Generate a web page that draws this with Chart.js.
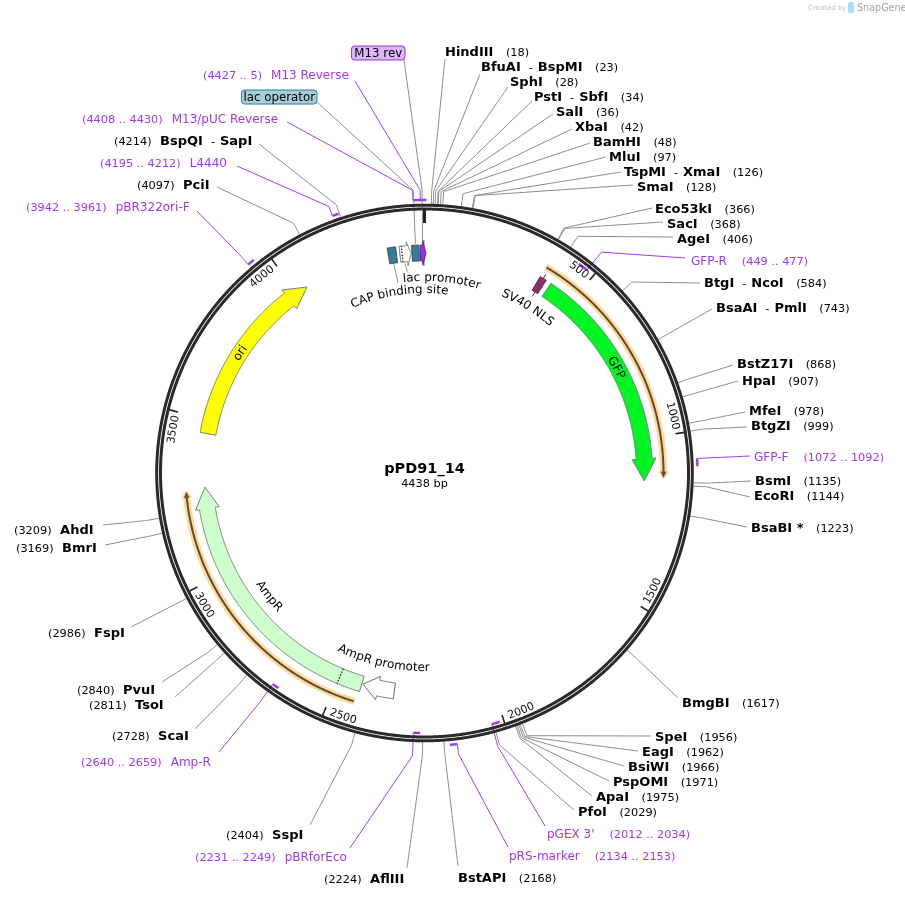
<!DOCTYPE html>
<html>
<head>
<meta charset="utf-8">
<title>pPD91_14</title>
<script src="https://cdn.jsdelivr.net/npm/chart.js@4"></script>
<style>
  html, body { margin: 0; padding: 0; background: #fff; }
  canvas { display: block; }
</style>
</head>
<body>
<canvas id="map" width="905" height="897"></canvas>
<script>
// plasmid
const plasmidName = "pPD91_14";
const plasmidSize = 4438;
const rulerTicks = [500, 1000, 1500, 2000, 2500, 3000, 3500, 4000];

// restriction sites
const siteNames = ["HindIII", "BfuAI - BspMI", "SphI", "PstI - SbfI", "SalI", "XbaI", "BamHI", "MluI", "TspMI - XmaI", "SmaI",
  "Eco53kI", "SacI", "AgeI", "BtgI - NcoI", "BsaAI - PmlI", "BstZ17I", "HpaI", "MfeI", "BtgZI", "BsmI", "EcoRI", "BsaBI *",
  "BmgBI", "SpeI", "EagI", "BsiWI", "PspOMI", "ApaI", "PfoI", "BstAPI", "AflIII", "SspI", "ScaI", "TsoI", "PvuI", "FspI",
  "BmrI", "AhdI", "PciI", "BspQI - SapI"];
const sitePositions = [18, 23, 28, 34, 36, 42, 48, 97, 126, 128,
  366, 368, 406, 584, 743, 868, 907, 978, 999, 1135, 1144, 1223,
  1617, 1956, 1962, 1966, 1971, 1975, 2029, 2168, 2224, 2404, 2728, 2811, 2840, 2986,
  3169, 3209, 4097, 4214];

// primers
const primerNames = ["GFP-R", "GFP-F", "pGEX 3'", "pRS-marker", "pBRforEco", "Amp-R", "pBR322ori-F", "L4440", "M13/pUC Reverse", "M13 Reverse"];
const primerStarts = [449, 1072, 2012, 2134, 2231, 2640, 3942, 4195, 4408, 4427];
const primerEnds = [477, 1092, 2034, 2153, 2249, 2659, 3961, 4212, 4430, 5];
const primerInner = [true, false, true, false, true, true, false, false, false, false];

// drawn features, start / head base / tip in bp
const featureNames = ["GFP", "ori", "AmpR", "AmpR promoter", "lac promoter", "CAP binding site", "lac operator", "M13 rev", "SV40 NLS"];
const featureStarts = [415, 3455, 2423, 2316, 4359, 4322, 4398, 4425, 376];
const featureHeads = [1064, 3970, 3214, 2369, 4382, 4348, 4421, 4432, 398];
const featureTips = [1135, 4040, 3283, 2419, 4395, 4348, 4421, 4443, 398];

// orange sequencing bands
const bandStarts = [376, 2429];
const bandTips = [1128, 3277];

// --- layout below, not data ---
const CX = 424.5, CY = 473;
const FONT = '"DejaVu Sans", sans-serif';
const PURPLE = "#a335f2";
const LINE_GRAY = "#8a8a8a";

// label start x, label centre y, leader end x, leader end y
const siteSpots = [[445,52,445,59],[481,67,480,74],[510,82,508,87],[534,97,532,101],[556,112,553,114],[575,127,572,129],[593,142,590,143],[609,157,606,157],[624,172,621,172],[637,187,633,185],
  [655,209,652,208],[667,224,663,222],[677,239,673,237],[704,283,700,283],[716,308,712,309],[737,364,733,365],[742,381,738,381],[749,411,745,412],[751,426,747,427],[755,481,751,481],[754,496,750,497],[751,528,747,527],
  [682,703,678,698],[655,737,651,736],[642,752,638,751],[628,767,624,766],[613,782,609,781],[596,797,592,796],[578,812,574,810],[458,878,458,866],
  [324,879,407,868],[226,835,310,825],[112,736,195,729],[89,705,175,697],[77,690,162,682],[48,633,131,627],
  [16,548,105,545],[14,530,103,525],[137,185,217,187],[114,141,259,144]];
const primerSpots = [[691,261,685,258],[754,457,750,456],[547,834,545,826],[509,856,508,847],[195,857,350,848],[81,762,219,752],[26,207,197,211],[100,163,237,166],[82,119,287,122],[203,75,355,81]];

const canvasWidth = 905, canvasHeight = 897;

function polar(bp, r) {
  const a = bp / plasmidSize * Math.PI * 2;
  return { x: CX + r * Math.sin(a), y: CY - r * Math.cos(a) };
}

function arcPoints(from, to, r) {
  const pts = [];
  const step = to >= from ? 4 : -4;
  for (let b = from; step > 0 ? b < to : b > to; b += step) pts.push(polar(b, r));
  pts.push(polar(to, r));
  return pts;
}

// tiny tension keeps Chart.js off its fast path, which merges points sharing an x pixel
function lineSet(points, color, width, dash) {
  return {
    data: points, showLine: true, borderColor: color, borderWidth: width, borderDash: dash || [],
    pointRadius: 0, fill: false, tension: 0.0001, clip: false, borderCapStyle: "butt", borderJoinStyle: "round",
  };
}

function shapeSet(points, fillColor, strokeColor, width) {
  const closed = points.concat([points[0]]);
  return {
    data: closed, showLine: true, borderColor: strokeColor, borderWidth: width, backgroundColor: fillColor,
    pointRadius: 0, fill: "shape", tension: 0.0001, clip: false, borderJoinStyle: "miter",
  };
}

function arrowPoints(start, head, tip, rMid, half, headHalf) {
  let pts = arcPoints(start, head, rMid + half);
  if (tip > head) {
    pts.push(polar(head, rMid + headHalf));
    pts.push(polar(tip, rMid));
    pts.push(polar(head, rMid - headHalf));
  }
  return pts.concat(arcPoints(head, start, rMid - half));
}

const featureFill = ["#00f522", "#ffff00", "#ccffcc", "#ffffff", "#ffffff", "#2e7e99", "#2e7e99", "#9b2fe0", "#8f2a6a"];
const featureStroke = ["#777777", "#777777", "#777777", "#666666", "#777777", "#444444", "#444444", "#5a2a80", "#5c2a50"];

// paint order, first pushed ends up at the bottom
const marks = [];

// leaders go under the ring
sitePositions.forEach((pos, i) => {
  const s = siteSpots[i];
  marks.push(lineSet([polar(pos, 268), polar(pos, 282), { x: s[2], y: s[3] }], LINE_GRAY, 1));
});
primerNames.forEach((name, i) => {
  const s = primerSpots[i];
  const end = primerEnds[i] < primerStarts[i] ? primerEnds[i] + plasmidSize : primerEnds[i];
  // the stub leaves from the 5' end of the primer
  const anchor = primerInner[i] ? end : primerStarts[i];
  const r0 = primerInner[i] ? 260 : 273;
  marks.push(lineSet([polar(anchor, r0), polar(anchor, 283), { x: s[2], y: s[3] }], PURPLE, 1));
  marks.push(lineSet(arcPoints(primerStarts[i], end, r0), PURPLE, 2.4));
});
// feature leaders
marks.push(lineSet([polar(4410, 229), polar(4410, 283), { x: 317, y: 102 }], LINE_GRAY, 1));
marks.push(lineSet([polar(4432, 229), polar(4432, 283), { x: 404, y: 60 }], LINE_GRAY, 1));
marks.push(lineSet([polar(4335, 211), { x: 398, y: 283 }], LINE_GRAY, 1));
marks.push(lineSet([polar(4372, 211), polar(4378, 202)], LINE_GRAY, 1));

// backbone, two dark rings
marks.push(lineSet(arcPoints(0, plasmidSize, 267.8), "#2a2a2a", 3));
marks.push(lineSet(arcPoints(0, plasmidSize, 264), "#2a2a2a", 3));

// ruler ticks
rulerTicks.forEach((t) => marks.push(lineSet([polar(t, 263), polar(t, 254)], "#222222", 1.6)));
marks.push(lineSet([polar(0, 263), polar(0, 250)], "#222222", 3));

// orange bands
bandStarts.forEach((start, i) => {
  const tip = bandTips[i];
  const headBase = tip - 22;
  marks.push(lineSet(arcPoints(start, headBase, 239), "#fdd89a", 7));
  marks.push(shapeSet([polar(headBase, 244.5), polar(tip, 239), polar(headBase, 233.5)], "#fdd89a", "#fdd89a", 0.5));
  marks.push(lineSet(arcPoints(start + 3, headBase, 239), "#5e4d30", 2));
  marks.push(shapeSet([polar(headBase, 241.5), polar(tip - 6, 239), polar(headBase, 236.5)], "#5e4d30", "#5e4d30", 0.5));
});

// whiskers sit under the small features
marks.push(lineSet([polar(4436, 207), polar(4436, 233)], "#333333", 1));
marks.push(lineSet([polar(387, 207), polar(387, 233)], "#333333", 1));

// features
featureNames.forEach((name, i) => {
  const pts = arrowPoints(featureStarts[i], featureHeads[i], featureTips[i], 220, 8, 12);
  marks.push(shapeSet(pts, featureFill[i], featureStroke[i], 1));
});
// dotted joints inside AmpR and lac promoter
marks.push(lineSet([polar(2497, 212), polar(2497, 228)], "#111111", 1.2, [1.5, 1.5]));
marks.push(lineSet([polar(4366, 212), polar(4366, 228)], "#111111", 1.2, [1.5, 1.5]));

// curved text along the circle
function drawCurved(ctx, text, bp, r, font, color, align) {
  ctx.save();
  ctx.font = font;
  ctx.fillStyle = color;
  ctx.textAlign = "left";
  ctx.textBaseline = "alphabetic";
  let deg = ((bp % plasmidSize) / plasmidSize) * 360;
  const flip = deg > 90 && deg < 270;
  const widths = Array.from(text).map((ch) => ctx.measureText(ch).width);
  const total = widths.reduce((a, b) => a + b, 0);
  const dir = flip ? -1 : 1;
  let offset = align === "start" ? 0 : align === "end" ? -total : -total / 2;
  const base = bp / plasmidSize * Math.PI * 2;
  Array.from(text).forEach((ch, i) => {
    const a = base + dir * (offset + widths[i] / 2) / r;
    const x = CX + r * Math.sin(a), y = CY - r * Math.cos(a);
    ctx.save();
    ctx.translate(x, y);
    ctx.rotate(flip ? a + Math.PI : a);
    ctx.fillText(ch, -widths[i] / 2, 0);
    ctx.restore();
    offset += widths[i];
  });
  ctx.restore();
}

function drawSiteLabel(ctx, name, pos, px, py, leftSide) {
  const bold = "bold 13px " + FONT, plain = "11.3px " + FONT;
  let x = px;
  ctx.fillStyle = "#000";
  const posText = "(" + pos + ")";
  if (leftSide) {
    ctx.font = plain;
    ctx.fillText(posText, x, py);
    x += ctx.measureText(posText).width + 8.5;
  }
  name.split(" - ").forEach((part, k) => {
    if (k > 0) {
      ctx.font = plain;
      x += 8;
      ctx.fillText("-", x, py);
      x += ctx.measureText("-").width + 5;
    }
    ctx.font = bold;
    ctx.fillText(part, x, py);
    x += ctx.measureText(part).width;
  });
  if (!leftSide) {
    ctx.font = plain;
    ctx.fillText(posText, x + 12.5, py);
  }
}

function drawPrimerLabel(ctx, name, range, px, py, leftSide) {
  const nameFont = "12px " + FONT, rangeFont = "11.3px " + FONT;
  ctx.fillStyle = PURPLE;
  if (leftSide) {
    ctx.font = rangeFont;
    ctx.fillText(range, px, py);
    const w = ctx.measureText(range).width;
    ctx.font = nameFont;
    ctx.fillText(name, px + w + 9, py);
  } else {
    ctx.font = nameFont;
    ctx.fillText(name, px, py);
    const w = ctx.measureText(name).width;
    ctx.font = rangeFont;
    ctx.fillText(range, px + w + 15, py);
  }
}

function drawBox(ctx, text, x0, x1, y, fill, stroke) {
  ctx.beginPath();
  ctx.roundRect(x0, y - 7, x1 - x0, 14, 3);
  ctx.fillStyle = fill;
  ctx.fill();
  ctx.strokeStyle = stroke;
  ctx.lineWidth = 1;
  ctx.stroke();
  ctx.fillStyle = "#000";
  ctx.font = "11.8px " + FONT;
  ctx.textAlign = "center";
  ctx.fillText(text, (x0 + x1) / 2, y + 1);
  ctx.textAlign = "left";
}

const textPlugin = {
  id: "mapText",
  afterDatasetsDraw(chart) {
    const ctx = chart.ctx;
    ctx.save();
    ctx.textBaseline = "middle";
    ctx.textAlign = "left";

    siteNames.forEach((name, i) => {
      const s = siteSpots[i];
      drawSiteLabel(ctx, name, sitePositions[i], s[0], s[1] + 1, s[0] < CX - 20 && s[2] - s[0] > 20);
    });
    primerNames.forEach((name, i) => {
      const s = primerSpots[i];
      const range = primerStarts[i] + " .. " + primerEnds[i];
      drawPrimerLabel(ctx, name, "(" + range + ")", s[0], s[1] + 1, s[0] < CX - 20);
    });

    drawBox(ctx, "M13 rev", 351.5, 405, 53, "#deb5f9", "#9b30e0");
    drawBox(ctx, "lac operator", 241.5, 317, 97, "#a5cdd9", "#2f7f96");

    // centre title
    ctx.textAlign = "center";
    ctx.fillStyle = "#000";
    ctx.font = "bold 14.5px " + FONT;
    ctx.fillText(plasmidName, CX, 469);
    ctx.font = "11.3px " + FONT;
    ctx.fillText(plasmidSize + " bp", CX, 484);
    ctx.textAlign = "left";

    // ruler numbers
    const bpPerPx = plasmidSize / (2 * Math.PI * 255);
    rulerTicks.forEach((t) => {
      const deg = t / plasmidSize * 360;
      const flip = deg > 90 && deg < 270;
      const at = flip ? t - 5.5 * bpPerPx : t - 4 * bpPerPx;
      drawCurved(ctx, String(t), at, flip ? 260 : 252, "11px " + FONT, "#111", flip ? "start" : "end");
    });

    // feature names
    const font = "12px " + FONT;
    drawCurved(ctx, "GFP", 755, 215.5, font, "#000");
    drawCurved(ctx, "ori", 3736, 216.5, font, "#000");
    drawCurved(ctx, "AmpR", 2855, 202, font, "#000");
    drawCurved(ctx, "AmpR promoter", 2371, 198, font, "#000");
    drawCurved(ctx, "lac promoter", 63, 192, font, "#000");
    drawCurved(ctx, "CAP binding site", 4339, 180, font, "#000");
    drawCurved(ctx, "SV40 NLS", 394, 193, font, "#000");

    // watermark
    ctx.fillStyle = "#c0c0c0";
    ctx.font = "7px " + FONT;
    ctx.fillText("Created by", 808, 8);
    ctx.fillStyle = "#a9def5";
    ctx.beginPath();
    ctx.roundRect(848, 2, 6, 11, 2);
    ctx.fill();
    ctx.fillStyle = "#a5a5a5";
    ctx.font = "9.6px " + FONT;
    ctx.fillText("SnapGene", 857, 8);
    ctx.restore();
  },
};

new Chart(document.getElementById("map"), {
  type: "scatter",
  data: { datasets: marks.slice().reverse() },
  options: {
    responsive: false,
    animation: false,
    devicePixelRatio: 1,
    layout: { padding: 0 },
    events: [],
    plugins: { legend: { display: false }, tooltip: { enabled: false } },
    scales: {
      x: { type: "linear", min: 0, max: canvasWidth, display: false },
      y: { type: "linear", min: 0, max: canvasHeight, reverse: true, display: false },
    },
  },
  plugins: [textPlugin],
});
</script>
</body>
</html>
